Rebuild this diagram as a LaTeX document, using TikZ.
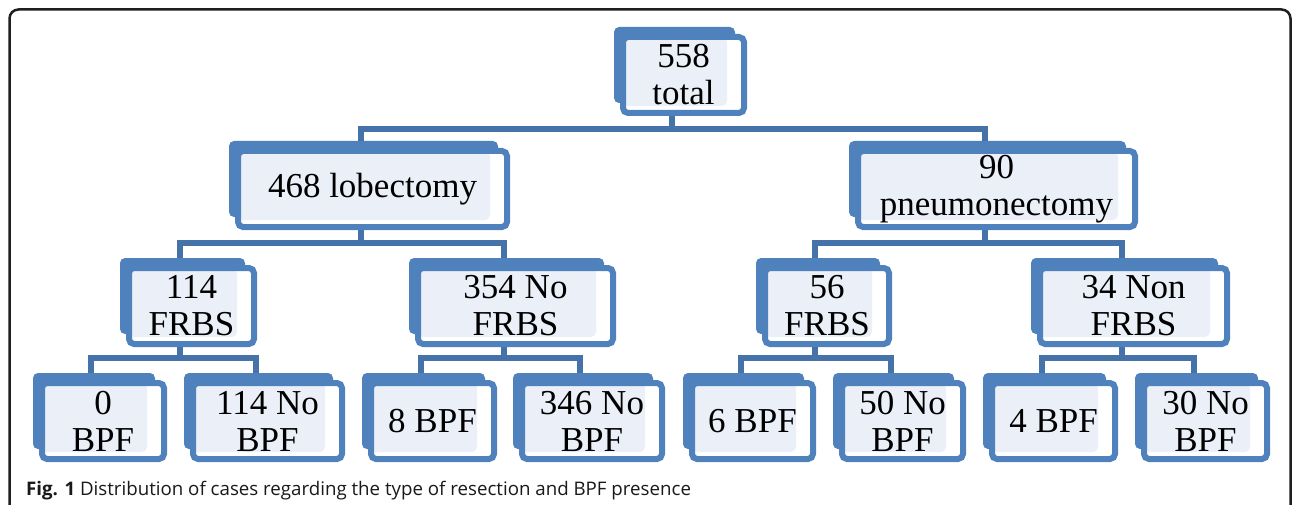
\documentclass[tikz,border=0pt]{standalone}
\usepackage{fontspec}
\setmainfont{Liberation Serif}
\newfontfamily\capfont{Open Sans}
\usetikzlibrary{shadows,backgrounds}
\definecolor{boxblue}{HTML}{4F81BD}
\definecolor{linkblue}{HTML}{4672AA}
\definecolor{boxtint}{HTML}{EBF0F8}

\begin{document}
\begin{tikzpicture}[x=1pt,y=-1pt]
\tikzstyle{every node}+=[inner sep=0pt]
\tikzstyle{casebox}=[draw=boxblue, line width=6pt, fill=white, rounded corners=5pt, align=center,
  font=\fontsize{35}{37}\selectfont, minimum height=76pt,
  general shadow={fill=boxblue, shadow xshift=-9pt, shadow yshift=10pt},
  path picture={\fill[boxtint] (path picture bounding box.north west) rectangle ([xshift=-17pt,yshift=7pt]path picture bounding box.south east);}]
\tikzstyle{link}=[draw=linkblue, line width=6pt]
\useasboundingbox (0,0) rectangle (1292,505);
\clip (0,0) rectangle (1292,505);
\draw [line width=2.5pt, rounded corners=9pt, black!88] (9.5,9.5) rectangle (1290.5,530);
% top level
\node [casebox, minimum width=121pt] (total) at (683.5,75) {558\\total};
% resection type
\node [casebox, minimum width=269pt] (lob) at (372.5,189) {468 lobectomy};
\node [casebox, minimum width=277pt] (pneu) at (996.5,189) {90\\pneumonectomy};
% FRBS
\node [casebox, minimum width=125pt] (frbsA) at (191.5,306) {114\\FRBS};
\node [casebox, minimum width=195pt] (nofrbsA) at (515.5,306) {354 No\\FRBS};
\node [casebox, minimum width=124pt] (frbsB) at (827,306) {56\\FRBS};
\node [casebox, minimum width=187pt] (nofrbsB) at (1133.5,306) {34 Non\\FRBS};
% BPF
\node [casebox, minimum width=122pt] (bpfA) at (103,421) {0\\BPF};
\node [casebox, minimum width=149pt] (nobpfA) at (267.5,421) {114 No\\BPF};
\node [casebox, minimum width=123pt] (bpfB) at (432.5,421) {8 BPF};
\node [casebox, minimum width=140pt] (nobpfB) at (592,421) {346 No\\BPF};
\node [casebox, minimum width=121pt] (bpfC) at (752.5,421) {6 BPF};
\node [casebox, minimum width=121pt] (nobpfC) at (902.5,421) {50 No\\BPF};
\node [casebox, minimum width=123pt] (bpfD) at (1053.5,421) {4 BPF};
\node [casebox, minimum width=123pt] (nobpfD) at (1205.5,421) {30 No\\BPF};
\node [anchor=base west, font=\capfont\fontsize{18.7}{20}\selectfont, text=black!90] (caption) at (26,495)
  {\textbf{Fig. 1} Distribution of cases regarding the type of resection and BPF presence};
\begin{pgfonlayer}{background}
\fill [white] (0,0) rectangle (1292,505);
\draw [link] ([xshift=-12pt]total.south) -- ++(0,13) -| ([xshift=-12pt]lob.north);
\draw [link] ([xshift=-12pt]total.south) -- ++(0,13) -| ([xshift=-12pt]pneu.north);
\draw [link] ([xshift=-12pt]lob.south) -- ++(0,13) -| ([xshift=-12pt]frbsA.north);
\draw [link] ([xshift=-12pt]lob.south) -- ++(0,13) -| ([xshift=-12pt]nofrbsA.north);
\draw [link] ([xshift=-12pt]pneu.south) -- ++(0,13) -| ([xshift=-12pt]frbsB.north);
\draw [link] ([xshift=-12pt]pneu.south) -- ++(0,13) -| ([xshift=-12pt]nofrbsB.north);
\draw [link] ([xshift=-12pt]frbsA.south) -- ++(0,11) -| ([xshift=-12pt]bpfA.north);
\draw [link] ([xshift=-12pt]frbsA.south) -- ++(0,11) -| ([xshift=-12pt]nobpfA.north);
\draw [link] ([xshift=-12pt]nofrbsA.south) -- ++(0,11) -| ([xshift=-12pt]bpfB.north);
\draw [link] ([xshift=-12pt]nofrbsA.south) -- ++(0,11) -| ([xshift=-12pt]nobpfB.north);
\draw [link] ([xshift=-12pt]frbsB.south) -- ++(0,11) -| ([xshift=-12pt]bpfC.north);
\draw [link] ([xshift=-12pt]frbsB.south) -- ++(0,11) -| ([xshift=-12pt]nobpfC.north);
\draw [link] ([xshift=-12pt]nofrbsB.south) -- ++(0,11) -| ([xshift=-12pt]bpfD.north);
\draw [link] ([xshift=-12pt]nofrbsB.south) -- ++(0,11) -| ([xshift=-12pt]nobpfD.north);
\end{pgfonlayer}
\end{tikzpicture}
\end{document}
